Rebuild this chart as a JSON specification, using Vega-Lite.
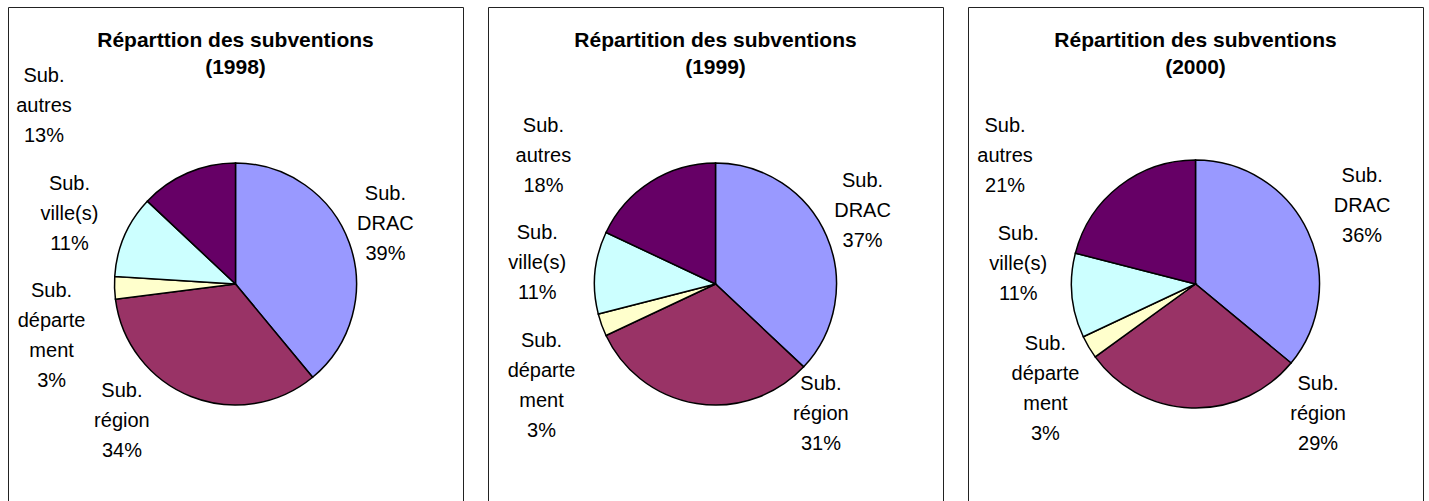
{
  "$schema": "https://vega.github.io/schema/vega-lite/v6.json",
  "background": "white",
  "padding": {"left": 7, "top": 6, "right": 0, "bottom": 0},
  "bounds": "flush",
  "config": {
    "view": {"stroke": "#222222", "strokeWidth": 1},
    "font": "Liberation Sans",
    "title": {"font": "Liberation Sans", "fontSize": 21, "fontWeight": "bold", "color": "#000000", "lineHeight": 27, "offset": -71, "anchor": "middle"},
    "text": {"fontSize": 20, "lineHeight": 30, "lineBreak": "\n", "align": "center", "baseline": "middle", "color": "#000000"},
    "arc": {"stroke": "#000000", "strokeWidth": 1.5},
    "concat": {"spacing": 25}
  },
  "datasets": {
    "subs": [
      {"year": "1998", "ord": 1, "cat": "Sub. DRAC", "value": 39, "label": "Sub.\nDRAC\n39%"},
      {"year": "1998", "ord": 2, "cat": "Sub. région", "value": 34, "label": "Sub.\nrégion\n34%"},
      {"year": "1998", "ord": 3, "cat": "Sub. département", "value": 3, "label": "Sub.\ndéparte\nment\n3%"},
      {"year": "1998", "ord": 4, "cat": "Sub. ville(s)", "value": 11, "label": "Sub.\nville(s)\n11%"},
      {"year": "1998", "ord": 5, "cat": "Sub. autres", "value": 13, "label": "Sub.\nautres\n13%"},
      {"year": "1999", "ord": 1, "cat": "Sub. DRAC", "value": 37, "label": "Sub.\nDRAC\n37%"},
      {"year": "1999", "ord": 2, "cat": "Sub. région", "value": 31, "label": "Sub.\nrégion\n31%"},
      {"year": "1999", "ord": 3, "cat": "Sub. département", "value": 3, "label": "Sub.\ndéparte\nment\n3%"},
      {"year": "1999", "ord": 4, "cat": "Sub. ville(s)", "value": 11, "label": "Sub.\nville(s)\n11%"},
      {"year": "1999", "ord": 5, "cat": "Sub. autres", "value": 18, "label": "Sub.\nautres\n18%"},
      {"year": "2000", "ord": 1, "cat": "Sub. DRAC", "value": 36, "label": "Sub.\nDRAC\n36%"},
      {"year": "2000", "ord": 2, "cat": "Sub. région", "value": 29, "label": "Sub.\nrégion\n29%"},
      {"year": "2000", "ord": 3, "cat": "Sub. département", "value": 3, "label": "Sub.\ndéparte\nment\n3%"},
      {"year": "2000", "ord": 4, "cat": "Sub. ville(s)", "value": 11, "label": "Sub.\nville(s)\n11%"},
      {"year": "2000", "ord": 5, "cat": "Sub. autres", "value": 21, "label": "Sub.\nautres\n21%"}
    ]
  },
  "hconcat": [
    {
      "width": 455, "height": 554,
      "view": {"stroke": "#222222", "strokeWidth": 1},
      "title": {"text": ["Réparttion des subventions", "(1998)"]},
      "data": {"name": "subs"},
      "transform": [
        {"filter": "datum.year === '1998'"},
        {"stack": "value", "groupby": ["year"], "sort": [{"field": "ord", "order": "ascending"}], "as": ["v0", "v1"]},
        {"calculate": "(datum.v0 + datum.v1) / 2", "as": "mid"}
      ],
      "layer": [
        {
          "mark": {"type": "arc", "radius": 121},
          "encoding": {
            "theta": {"field": "v0", "type": "quantitative", "scale": {"domain": [0, 100]}},
            "theta2": {"field": "v1"},
            "color": {"field": "cat", "type": "nominal", "legend": null,
              "scale": {"domain": ["Sub. DRAC", "Sub. région", "Sub. département", "Sub. ville(s)", "Sub. autres"],
                        "range": ["#9999FF", "#993366", "#FFFFCC", "#CCFFFF", "#660066"]}}
          }
        },
        {
          "transform": [{"filter": "datum.cat === 'Sub. DRAC' || datum.cat === 'Sub. ville(s)'"}],
          "mark": {"type": "text", "radius": 170, "dx": -10, "dy": -32},
          "encoding": {"theta": {"field": "mid", "type": "quantitative", "scale": {"domain": [0, 100]}}, "text": {"field": "label"}}
        },
        {
          "transform": [{"filter": "datum.cat === 'Sub. autres'"}],
          "mark": {"type": "text", "radius": 170, "dx": -124, "dy": -52},
          "encoding": {"theta": {"field": "mid", "type": "quantitative", "scale": {"domain": [0, 100]}}, "text": {"field": "label"}}
        },
        {
          "transform": [{"filter": "datum.cat === 'Sub. département'"}],
          "mark": {"type": "text", "radius": 170, "dx": -14, "dy": 2},
          "encoding": {"theta": {"field": "mid", "type": "quantitative", "scale": {"domain": [0, 100]}}, "text": {"field": "label"}}
        },
        {
          "transform": [{"filter": "datum.cat === 'Sub. région'"}],
          "mark": {"type": "text", "radius": 170, "dx": -51, "dy": -51},
          "encoding": {"theta": {"field": "mid", "type": "quantitative", "scale": {"domain": [0, 100]}}, "text": {"field": "label"}}
        }
      ]
    },
    {
      "width": 455, "height": 554,
      "view": {"stroke": "#222222", "strokeWidth": 1},
      "title": {"text": ["Répartition des subventions", "(1999)"]},
      "data": {"name": "subs"},
      "transform": [
        {"filter": "datum.year === '1999'"},
        {"stack": "value", "groupby": ["year"], "sort": [{"field": "ord", "order": "ascending"}], "as": ["v0", "v1"]},
        {"calculate": "(datum.v0 + datum.v1) / 2", "as": "mid"}
      ],
      "layer": [
        {
          "mark": {"type": "arc", "radius": 121},
          "encoding": {
            "theta": {"field": "v0", "type": "quantitative", "scale": {"domain": [0, 100]}},
            "theta2": {"field": "v1"},
            "color": {"field": "cat", "type": "nominal", "legend": null,
              "scale": {"domain": ["Sub. DRAC", "Sub. région", "Sub. département", "Sub. ville(s)", "Sub. autres"],
                        "range": ["#9999FF", "#993366", "#FFFFCC", "#CCFFFF", "#660066"]}}
          }
        },
        {
          "transform": [{"filter": "datum.cat === 'Sub. DRAC' || datum.cat === 'Sub. ville(s)'"}],
          "mark": {"type": "text", "radius": 170, "dx": -9, "dy": -35},
          "encoding": {"theta": {"field": "mid", "type": "quantitative", "scale": {"domain": [0, 100]}}, "text": {"field": "label"}}
        },
        {
          "transform": [{"filter": "datum.cat === 'Sub. autres'"}],
          "mark": {"type": "text", "radius": 170, "dx": -81, "dy": -14},
          "encoding": {"theta": {"field": "mid", "type": "quantitative", "scale": {"domain": [0, 100]}}, "text": {"field": "label"}}
        },
        {
          "transform": [{"filter": "datum.cat === 'Sub. département'"}],
          "mark": {"type": "text", "radius": 170, "dx": -14, "dy": -1},
          "encoding": {"theta": {"field": "mid", "type": "quantitative", "scale": {"domain": [0, 100]}}, "text": {"field": "label"}}
        },
        {
          "transform": [{"filter": "datum.cat === 'Sub. région'"}],
          "mark": {"type": "text", "radius": 170, "dx": 132, "dy": -68},
          "encoding": {"theta": {"field": "mid", "type": "quantitative", "scale": {"domain": [0, 100]}}, "text": {"field": "label"}}
        }
      ]
    },
    {
      "width": 455, "height": 554,
      "view": {"stroke": "#222222", "strokeWidth": 1},
      "title": {"text": ["Répartition des subventions", "(2000)"]},
      "data": {"name": "subs"},
      "transform": [
        {"filter": "datum.year === '2000'"},
        {"stack": "value", "groupby": ["year"], "sort": [{"field": "ord", "order": "ascending"}], "as": ["v0", "v1"]},
        {"calculate": "(datum.v0 + datum.v1) / 2", "as": "mid"}
      ],
      "layer": [
        {
          "mark": {"type": "arc", "radius": 124},
          "encoding": {
            "theta": {"field": "v0", "type": "quantitative", "scale": {"domain": [0, 100]}},
            "theta2": {"field": "v1"},
            "color": {"field": "cat", "type": "nominal", "legend": null,
              "scale": {"domain": ["Sub. DRAC", "Sub. région", "Sub. département", "Sub. ville(s)", "Sub. autres"],
                        "range": ["#9999FF", "#993366", "#FFFFCC", "#CCFFFF", "#660066"]}}
          }
        },
        {
          "transform": [{"filter": "datum.cat === 'Sub. DRAC'"}],
          "mark": {"type": "text", "radius": 172, "dx": 11, "dy": -35},
          "encoding": {"theta": {"field": "mid", "type": "quantitative", "scale": {"domain": [0, 100]}}, "text": {"field": "label"}}
        },
        {
          "transform": [{"filter": "datum.cat === 'Sub. ville(s)'"}],
          "mark": {"type": "text", "radius": 172, "dx": -6, "dy": -66},
          "encoding": {"theta": {"field": "mid", "type": "quantitative", "scale": {"domain": [0, 100]}}, "text": {"field": "label"}}
        },
        {
          "transform": [{"filter": "datum.cat === 'Sub. autres'"}],
          "mark": {"type": "text", "radius": 172, "dx": -85, "dy": -22},
          "encoding": {"theta": {"field": "mid", "type": "quantitative", "scale": {"domain": [0, 100]}}, "text": {"field": "label"}}
        },
        {
          "transform": [{"filter": "datum.cat === 'Sub. département'"}],
          "mark": {"type": "text", "radius": 172, "dx": -2, "dy": -28},
          "encoding": {"theta": {"field": "mid", "type": "quantitative", "scale": {"domain": [0, 100]}}, "text": {"field": "label"}}
        },
        {
          "transform": [{"filter": "datum.cat === 'Sub. région'"}],
          "mark": {"type": "text", "radius": 172, "dx": 128, "dy": -72},
          "encoding": {"theta": {"field": "mid", "type": "quantitative", "scale": {"domain": [0, 100]}}, "text": {"field": "label"}}
        }
      ]
    }
  ]
}
